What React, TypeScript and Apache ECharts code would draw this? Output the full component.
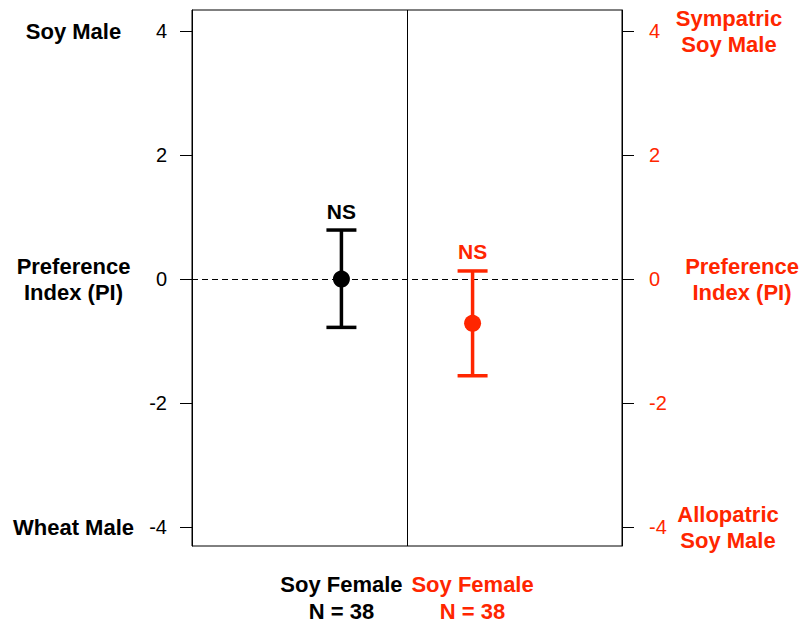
import React, { useEffect, useRef } from 'react';
import * as echarts from 'echarts';

const groupLabels = ['Soy Female', 'Soy Female'];
const groupN = [38, 38];
const xPositions = [1.195, 1.805];
const means = [0, -0.715];
const upperCI = [0.79, 0.13];
const lowerCI = [-0.78, -1.56];
const sigLabels = ['NS', 'NS'];
const yTicks = [-4, -2, 0, 2, 4];
const endLabelValues = [4, 0, -4];
const leftEndLabels = ['Soy Male', 'Preference\nIndex (PI)', 'Wheat Male'];
const rightEndLabels = ['Sympatric\nSoy Male', 'Preference\nIndex (PI)', 'Allopatric\nSoy Male'];

const BLACK = '#000000';
const RED = '#ff2600';
const groupColors = [BLACK, RED];
const FONT = '"Liberation Sans", Arial, Helvetica, sans-serif';
const Y_MIN = -4.306;
const Y_MAX = 4.339;

export default function App() {
  const ref = useRef<HTMLDivElement>(null);

  useEffect(() => {
    document.body.style.margin = '0';
    if (!ref.current) return;
    const chart = echarts.init(ref.current, null, { renderer: 'svg' });

    const idxOf = (v: number) => xPositions.findIndex((x) => Math.abs(x - v) < 1e-6);

    const option: any = {
      animation: false,
      backgroundColor: '#ffffff',
      grid: {
        left: 192,
        right: 182,
        top: 10,
        bottom: 80,
        show: true,
        borderColor: BLACK,
        borderWidth: 1,
        backgroundColor: 'transparent',
      },
      xAxis: {
        type: 'value',
        min: 0.5,
        max: 2.5,
        axisLine: { show: false },
        axisTick: { show: false },
        splitLine: { show: false },
        axisLabel: {
          customValues: xPositions,
          margin: 25,
          formatter: (v: number) => {
            const i = idxOf(v);
            if (i < 0) return '';
            const k = i === 0 ? 'k' : 'r';
            return `{${k}|${groupLabels[i]}}\n{${k}|N = ${groupN[i]}}`;
          },
          rich: {
            k: { color: BLACK, fontWeight: 'bold', fontSize: 22, lineHeight: 27, fontFamily: FONT },
            r: { color: RED, fontWeight: 'bold', fontSize: 22, lineHeight: 27, fontFamily: FONT },
          },
        },
      },
      yAxis: [
        {
          type: 'value',
          position: 'left',
          min: Y_MIN,
          max: Y_MAX,
          splitLine: { show: false },
          axisLine: { show: true, lineStyle: { color: BLACK, width: 1 } },
          axisTick: { show: true, length: 12, customValues: yTicks, lineStyle: { color: BLACK, width: 1 } },
          axisLabel: {
            customValues: yTicks,
            margin: 25,
            color: BLACK,
            fontSize: 20,
            fontFamily: FONT,
          },
        },
        {
          type: 'value',
          position: 'right',
          min: Y_MIN,
          max: Y_MAX,
          splitLine: { show: false },
          axisLine: { show: true, lineStyle: { color: BLACK, width: 1 } },
          axisTick: { show: true, length: 12, customValues: yTicks, lineStyle: { color: BLACK, width: 1 } },
          axisLabel: {
            customValues: yTicks,
            margin: 27,
            color: RED,
            fontSize: 20,
            fontFamily: FONT,
          },
        },
      ],
      series: [
        {
          type: 'custom',
          xAxisIndex: 0,
          yAxisIndex: 0,
          z: 3,
          data: xPositions.map((x, i) => [x, lowerCI[i], upperCI[i], i]),
          encode: { x: 0, y: [1, 2] },
          renderItem: (params: any, api: any) => {
            const x = api.value(0);
            const lo = api.value(1);
            const hi = api.value(2);
            const i = api.value(3);
            const pLo = api.coord([x, lo]);
            const pHi = api.coord([x, hi]);
            const c = groupColors[i];
            const hw = 15;
            const lw = 3.5;
            return {
              type: 'group',
              children: [
                { type: 'line', shape: { x1: pHi[0], y1: pHi[1], x2: pLo[0], y2: pLo[1] }, style: { stroke: c, lineWidth: lw } },
                { type: 'line', shape: { x1: pHi[0] - hw, y1: pHi[1], x2: pHi[0] + hw, y2: pHi[1] }, style: { stroke: c, lineWidth: lw } },
                { type: 'line', shape: { x1: pLo[0] - hw, y1: pLo[1], x2: pLo[0] + hw, y2: pLo[1] }, style: { stroke: c, lineWidth: lw } },
                {
                  type: 'text',
                  x: pHi[0],
                  y: pHi[1] - 8.5,
                  style: {
                    text: sigLabels[i],
                    fill: c,
                    fontSize: 21,
                    fontWeight: 'bold',
                    fontFamily: FONT,
                    align: 'center',
                    verticalAlign: 'bottom',
                  },
                },
              ],
            };
          },
        },
        {
          type: 'scatter',
          xAxisIndex: 0,
          yAxisIndex: 0,
          z: 4,
          symbol: 'circle',
          symbolSize: 17,
          itemStyle: { opacity: 1 },
          data: xPositions.map((x, i) => ({ value: [x, means[i]], itemStyle: { color: groupColors[i], opacity: 1 } })),
          markLine: {
            silent: true,
            symbol: 'none',
            label: { show: false },
            z: 1,
            data: [
              { yAxis: 0, lineStyle: { color: BLACK, width: 1, type: [6, 4] } },
              { xAxis: 1.5, lineStyle: { color: BLACK, width: 1, type: 'solid' } },
            ],
          },
        },
      ],
    };

    chart.setOption(option);

    const leftX = 73.5;
    const rightX = [729, 742, 728];
    const graphics: any[] = [];
    endLabelValues.forEach((v, i) => {
      const py = chart.convertToPixel({ yAxisIndex: 0 }, v) as number;
      graphics.push({
        type: 'text',
        x: leftX,
        y: py,
        style: {
          text: leftEndLabels[i],
          fill: BLACK,
          fontSize: 22,
          fontWeight: 'bold',
          fontFamily: FONT,
          lineHeight: 26,
          align: 'center',
          verticalAlign: 'middle',
        },
      });
      graphics.push({
        type: 'text',
        x: rightX[i],
        y: py,
        style: {
          text: rightEndLabels[i],
          fill: RED,
          fontSize: 22,
          fontWeight: 'bold',
          fontFamily: FONT,
          lineHeight: 26,
          align: 'center',
          verticalAlign: 'middle',
        },
      });
    });
    chart.setOption({ graphic: graphics });

    return () => {
      chart.dispose();
    };
  }, []);

  return <div ref={ref} style={{ width: 804, height: 626 }} />;
}
